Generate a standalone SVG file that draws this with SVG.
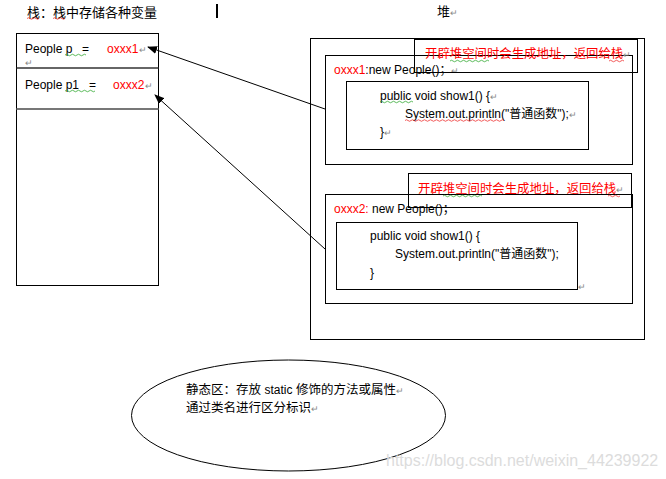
<svg xmlns="http://www.w3.org/2000/svg" width="666" height="479" viewBox="0 0 666 479">
<style>
text{font-family:"Liberation Sans","Noto Sans CJK SC",sans-serif;font-size:12px;fill:#000}
.cjk{font-size:13px}
.note{font-size:12.4px;fill:#ff0000}
.red{fill:#ff0000}
.ret{fill:#888;font-size:9px}
.box{fill:none;stroke:#000;stroke-width:1}
.wm{fill:#dcdcdc;font-size:16px}
.wg{fill:none;stroke:#3a3;stroke-width:0.8}
.wr{fill:none;stroke:#e33;stroke-width:0.8}
</style>
<defs>
<marker id="ah" markerWidth="10" markerHeight="8" refX="9" refY="4" orient="auto" markerUnits="userSpaceOnUse">
<path d="M0,0 L10,4 L0,8 z" fill="#000"/>
</marker>
</defs>
<rect width="666" height="479" fill="#fff"/>
<g id="titles">
<text x="27" y="17" class="cjk">栈：栈中存储各种变量</text>
<path class="wr" d="M27,18.5 q1.5,-1.5 3,0 t3,0 t3,0 t3,0 M53,18.5 q1.5,-1.5 3,0 t3,0 t3,0 t3,0"/>
<rect x="216" y="4" width="2" height="14" fill="#000"/>
<text x="437" y="16" class="cjk">堆<tspan class="ret">↵</tspan></text>
</g>
<g id="stack">
<rect class="box" x="16.5" y="33.5" width="142" height="252"/>
<line x1="16.5" y1="68" x2="158.5" y2="68" stroke="#333" stroke-width="1.5"/>
<line x1="16.5" y1="109" x2="158.5" y2="109" stroke="#777" stroke-width="2"/>
<text x="25" y="53">People p</text>
<path class="wg" d="M65,55 q1.5,-1.5 3,0 t3,0 t3,0 t3,0 t3,0 t3,0 t3,0"/>
<text x="82" y="53">=</text>
<text x="107" y="53" class="red">oxxx1</text>
<text x="139" y="53" class="ret">↵</text>
<text x="25" y="66" class="ret">↵</text>
<text x="25" y="89">People p1</text>
<path class="wg" d="M65,91 q1.5,-1.5 3,0 t3,0 t3,0 t3,0 t3,0 t3,0 t3,0 t3,0 t3,0 t3,0"/>
<text x="89" y="89">=</text>
<text x="113" y="89" class="red">oxxx2</text>
<text x="145" y="89" class="ret">↵</text>
</g>
<g id="heap">
<rect class="box" x="310.5" y="38.5" width="334" height="301"/>
</g>
<g id="obj1">
<rect class="box" x="325.5" y="55.5" width="307" height="109"/>
<text x="334" y="74"><tspan class="red">oxxx1</tspan>:new People()；<tspan class="ret">↵</tspan></text>
<rect class="box" x="346.5" y="81.5" width="242" height="68"/>
<text x="380" y="100">public void show1() {<tspan class="ret">↵</tspan></text>
<path class="wg" d="M380,102 q1.5,-1.5 3,0 t3,0 t3,0 t3,0 t3,0 t3,0 t3,0 t3,0 t3,0 t3,0 t3,0"/>
<text x="405" y="118">System.out.println("普通函数");<tspan class="ret">↵</tspan></text>
<path class="wr" d="M405,120.5 q1.5,-1.5 3,0 t3,0 t3,0 t3,0 t3,0 t3,0 t3,0 t3,0 t3,0 t3,0 t3,0 t3,0 t3,0 t3,0 t3,0 t3,0 t3,0 t3,0 t3,0 t3,0 t3,0 t3,0 t3,0 t3,0 t3,0 t3,0 t3,0 t3,0 t3,0 t3,0 t3,0 t3,0 t3,0"/>
<text x="380" y="136">}<tspan class="ret">↵</tspan></text>
</g>
<g id="note1">
<rect class="box" x="414.5" y="39.5" width="223" height="33"/>
<text x="425" y="58" class="note">开辟堆空间时会生成地址，返回给栈<tspan class="ret">↵</tspan></text>
<path class="wg" d="M450,61 q1.5,-1.5 3,0 t3,0 t3,0 t3,0 t3,0 t3,0 t3,0 t3,0 t3,0 t3,0 t3,0 t3,0 t3,0"/>
<path class="wr" d="M609,61 q1.5,-1.5 3,0 t3,0 t3,0 t3,0 t3,0"/>
</g>
<g id="obj2">
<rect class="box" x="325.5" y="194.5" width="307" height="109"/>
<text x="334" y="213"><tspan class="red">oxxx2:</tspan> new People()；</text>
<rect class="box" x="336.5" y="222.5" width="241" height="67"/>
<text x="370" y="240">public void show1() {</text>
<text x="395" y="258">System.out.println("普通函数");</text>
<text x="370" y="277">}</text>
<text x="578" y="290" class="ret">↵</text>
</g>
<g id="note2">
<rect class="box" x="408.5" y="173.5" width="223" height="34"/>
<text x="418" y="193" class="note">开辟堆空间时会生成地址，返回给栈<tspan class="ret">↵</tspan></text>
<path class="wg" d="M443,196 q1.5,-1.5 3,0 t3,0 t3,0 t3,0 t3,0 t3,0 t3,0 t3,0 t3,0 t3,0 t3,0 t3,0 t3,0"/>
<path class="wr" d="M608,196 q1.5,-1.5 3,0 t3,0 t3,0 t3,0"/>
</g>
<g id="static">
<ellipse cx="288.5" cy="415.5" rx="157" ry="55.5" fill="none" stroke="#000" stroke-width="1"/>
<text x="186" y="394" style="font-size:12.5px">静态区：存放 <tspan style="font-size:12px">static</tspan> 修饰的方法或属性<tspan class="ret">↵</tspan></text>
<text x="186" y="412" style="font-size:12.5px">通过类名进行区分标识<tspan class="ret">↵</tspan></text>
</g>
<g id="connectors" stroke="#000" stroke-width="1" fill="none">
<line x1="325" y1="109" x2="148" y2="47" marker-end="url(#ah)"/>
<line x1="325" y1="249" x2="155" y2="95" marker-end="url(#ah)"/>
</g>
<text x="386" y="466" class="wm">https://blog.csdn.net/weixin_44239922</text>
</svg>
